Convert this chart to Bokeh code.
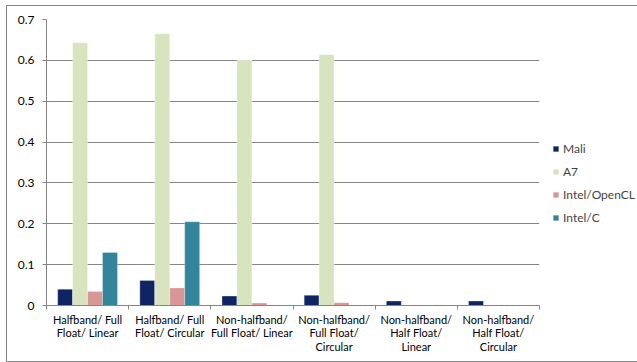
import numpy as np
from bokeh.plotting import figure
from bokeh.models import ColumnDataSource, Range1d, FixedTicker, Legend, LegendItem
from bokeh.transform import dodge
from bokeh.embed import file_html
from bokeh.resources import INLINE

categories = [
    "Halfband/ Full\nFloat/ Linear",
    "Halfband/ Full\nFloat/ Circular",
    "Non-halfband/\nFull Float/ Linear",
    "Non-halfband/\nFull Float/\nCircular",
    "Non-halfband/\nHalf Float/\nLinear",
    "Non-halfband/\nHalf Float/\nCircular",
]
series_names = ["Mali", "A7", "Intel/OpenCL", "Intel/C"]
mali = [0.040, 0.061, 0.023, 0.025, 0.011, 0.011]
a7 = [0.643, 0.665, 0.601, 0.614, 0.0, 0.0]
intel_opencl = [0.034, 0.043, 0.006, 0.007, 0.0, 0.0]
intel_c = [0.130, 0.205, 0.0, 0.0, 0.0, 0.0]
y_ticks = [0, 0.1, 0.2, 0.3, 0.4, 0.5, 0.6, 0.7]
y_tick_labels = ["0", "0.1", "0.2", "0.3", "0.4", "0.5", "0.6", "0.7"]

colors = ["#0E2465", "#D7E4BD", "#D99694", "#31869B"]

n = len(categories)
centers = list(np.arange(n) + 0.5)
source = ColumnDataSource(dict(x=centers, mali=mali, a7=a7,
                               opencl=intel_opencl, intelc=intel_c))

FONT = "Lato"
p = figure(frame_width=493, frame_height=286, width=637, height=362,
           x_range=Range1d(0, n), y_range=Range1d(0, 0.7),
           output_backend="svg", toolbar_location=None,
           min_border_left=46, min_border_right=98, min_border_top=19,
           min_border_bottom=57)
p.outline_line_color = None
p.background_fill_color = "white"
p.border_fill_alpha = 0

g = "linear-gradient(#868686,#868686)"
p.styles = {
    "background-color": "white",
    "background-image": f"{g}, {g}, {g}",
    "background-size": "640px 1px, 1px 357px, 640px 1px",
    "background-position": "6px 5px, 6px 5px, 6px 361px",
    "background-repeat": "no-repeat",
}

bw = 0.182
offsets = [-1.5 * bw, -0.5 * bw, 0.5 * bw, 1.5 * bw]
fields = ["mali", "a7", "opencl", "intelc"]
renderers = []
for f, off, c in zip(fields, offsets, colors):
    r = p.vbar(x=dodge("x", off, range=p.x_range), top=f, width=bw, bottom=0,
               source=source, fill_color=c, line_color="white", line_alpha=0.5,
               line_width=0.6)
    renderers.append(r)

# axes
xa = p.xaxis[0]
xa.ticker = FixedTicker(ticks=centers, minor_ticks=list(range(n + 1)))
xa.major_label_overrides = {c: lab for c, lab in zip(centers, categories)}
xa.major_tick_line_color = None
xa.minor_tick_out = 4
xa.minor_tick_in = 0
xa.minor_tick_line_color = "#868686"
xa.axis_line_color = "#868686"
xa.major_label_text_font = FONT
xa.major_label_text_font_size = "11px"
xa.major_label_text_line_height = 1.05
xa.major_label_text_color = "#000000"
xa.major_label_standoff = 1
xa.major_label_orientation = "horizontal"

ya = p.yaxis[0]
ya.ticker = FixedTicker(ticks=y_ticks)
ya.major_label_overrides = {t: l for t, l in zip(y_ticks, y_tick_labels)}
ya.major_tick_out = 4
ya.major_tick_in = 0
ya.minor_tick_line_color = None
ya.major_tick_line_color = "#868686"
ya.axis_line_color = "#868686"
ya.major_label_text_font = FONT
ya.major_label_text_font_size = "12px"
ya.major_label_text_color = "#000000"
ya.major_label_standoff = 8

p.xgrid.grid_line_color = None
p.ygrid.grid_line_color = "#868686"
p.ygrid.grid_line_width = 1

legend = Legend(items=[LegendItem(label=nm, renderers=[r])
                       for nm, r in zip(series_names, renderers)],
                location=(13, 80), padding=0, margin=0, spacing=8,
                glyph_width=7, glyph_height=7, label_standoff=4,
                label_height=14, label_text_font=FONT,
                label_text_font_size="12px", background_fill_alpha=0,
                border_line_color=None)
p.add_layout(legend, "right")

open("out.html", "w").write(file_html(p, INLINE))
